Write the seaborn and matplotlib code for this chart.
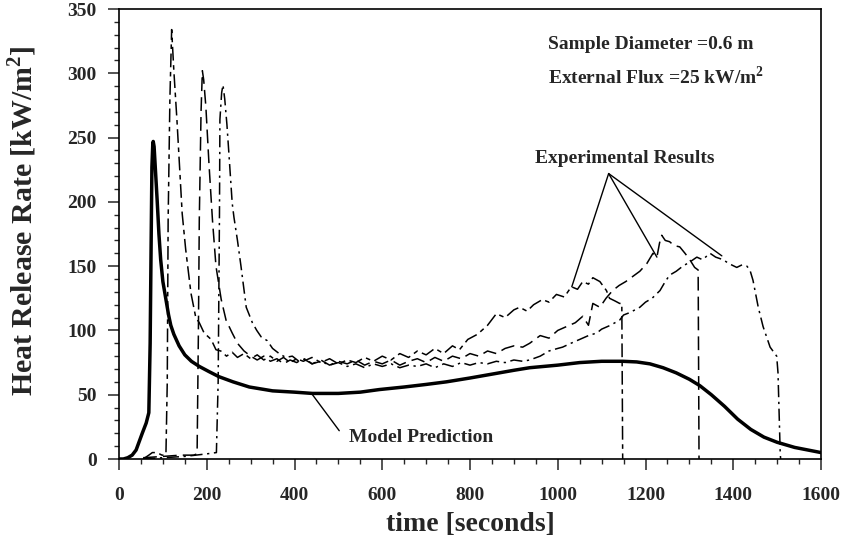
import matplotlib
matplotlib.use("Agg")
import matplotlib.pyplot as plt
import seaborn as sns
import pandas as pd
from matplotlib.ticker import MultipleLocator

# ---------------- data ----------------
model_t = [0, 10, 20, 30, 39, 53, 62, 68, 71, 73, 75, 77, 78, 80, 83, 87, 91, 95, 100, 107,
           113, 118, 125, 137, 150, 165, 183, 205, 228, 260, 297, 350, 400, 441, 500, 550, 593,
           650, 700, 746, 800, 850, 900, 936, 1000, 1050, 1100, 1148, 1180, 1210, 1240, 1270,
           1300, 1324, 1350, 1380, 1410, 1440, 1470, 1500, 1540, 1600]
model_q = [0, 0, 1, 3, 7, 20, 28, 36, 90, 160, 227, 245, 247, 243, 225, 201, 175, 155, 138, 124,
           112, 104, 97, 88, 81, 76, 72, 68, 64, 60, 56, 53, 52, 51, 51, 52, 54,
           56, 58, 60, 63, 66, 69, 71, 73, 75, 76, 76, 75.5, 74, 71, 67,
           62, 57, 50, 41, 31, 23, 17, 13, 9, 5]

expA_t = [55, 68, 76, 84, 92, 98, 104, 107, 110, 112, 116, 120, 125, 132, 144, 152, 164, 175,
          183, 194, 210, 221, 232, 245, 258, 270, 285, 300, 315, 330, 345, 360, 375, 390,
          405, 420, 440, 460, 480, 500, 520, 540, 560, 580, 600, 620, 640, 660, 680, 700,
          720, 740, 760, 776, 795, 817, 840, 860, 880, 900, 913, 930, 945, 965, 980, 997,
          1015, 1031, 1045, 1057, 1070, 1080, 1096, 1111, 1118, 1130, 1141, 1146, 1148]
expA_q = [0, 3, 5, 5, 4, 3, 3, 4, 60, 186, 280, 334, 302, 264, 191, 163, 129, 110,
          106, 98, 93, 85, 84, 80, 83, 79, 82, 78, 81, 77, 80, 76, 79, 75,
          78, 76, 79, 75, 78, 74, 77, 75, 79, 76, 80, 77, 82, 79, 84, 81,
          86, 82, 88, 85, 93, 97, 104, 113, 110, 116, 118, 115, 120, 124, 122, 128,
          126, 134, 132, 138, 136, 141, 138, 131, 125, 123, 121, 121, 0]

expB_t = [55, 100, 140, 170, 178, 181, 183, 187, 190, 193, 198, 205, 213, 221, 233, 244,
          258, 270, 285, 300, 315, 330, 345, 360, 375, 390, 405, 420, 440, 460, 480, 500,
          520, 540, 560, 580, 600, 620, 640, 660, 680, 700, 720, 740, 760, 780, 800, 820,
          840, 860, 880, 900, 920, 936, 960, 980, 1000, 1020, 1040, 1057, 1070, 1080,
          1096, 1110, 1125, 1140, 1155, 1171, 1187, 1203, 1217, 1226, 1232, 1237, 1245,
          1255, 1265, 1278, 1290, 1301, 1312, 1320, 1322]
expB_q = [1, 2, 3, 3, 4, 100, 186, 270, 302, 295, 274, 230, 186, 150, 124, 108,
          98, 90, 84, 80, 77, 80, 76, 78, 74, 77, 75, 78, 74, 77, 73, 76,
          74, 77, 73, 76, 74, 77, 73, 76, 78, 75, 79, 76, 80, 78, 82, 80,
          84, 82, 86, 88, 87, 90, 96, 94, 100, 103, 106, 111, 104, 121,
          118, 125, 131, 135, 138, 142, 146, 152, 160, 157, 168, 174, 170,
          169, 166, 165, 160, 155, 149, 147, 0]

expC_t = [55, 100, 150, 200, 222, 226, 229, 230, 234, 237, 241, 246, 251, 258, 262, 270,
          278, 290, 304, 314, 324, 338, 350, 365, 380, 395, 410, 425, 440, 460, 480, 500,
          520, 540, 560, 580, 600, 620, 640, 660, 680, 700, 720, 740, 760, 780, 800, 820,
          840, 860, 880, 900, 920, 936, 960, 980, 1000, 1011, 1030, 1050, 1070, 1089,
          1100, 1120, 1141, 1150, 1165, 1187, 1200, 1215, 1233, 1245, 1255, 1270, 1285,
          1300, 1317, 1330, 1347, 1360, 1377, 1390, 1408, 1420, 1431, 1438, 1445, 1457,
          1468, 1484, 1499, 1502, 1505, 1507, 1508]
expC_q = [0, 1, 2, 4, 5, 60, 191, 264, 285, 291, 280, 260, 235, 199, 188, 170,
          150, 118, 106, 100, 95, 92, 86, 82, 79, 80, 76, 78, 74, 76, 73, 75,
          72, 74, 71, 74, 72, 74, 71, 73, 72, 74, 71, 74, 72, 75, 73, 75,
          74, 76, 75, 77, 76, 77, 80, 84, 86, 87, 90, 93, 96, 98,
          101, 104, 108, 112, 114, 118, 122, 125, 131, 138, 143, 146, 150,
          153, 157, 155, 160, 157, 155, 152, 149, 151, 150, 147, 139, 118,
          103, 87, 80, 67, 30, 5, 0]

x_ticks = [0, 200, 400, 600, 800, 1000, 1200, 1400, 1600]
y_ticks = [0, 50, 100, 150, 200, 250, 300, 350]

# ---------------- style ----------------
sns.set_style("ticks")
plt.rcParams["font.family"] = ["Liberation Serif", "DejaVu Serif"]
plt.rcParams["font.weight"] = "bold"
plt.rcParams["mathtext.fontset"] = "custom"
plt.rcParams["mathtext.rm"] = "Liberation Serif:bold"
plt.rcParams["mathtext.bf"] = "Liberation Serif:bold"

fig = plt.figure(figsize=(8.47, 5.52), dpi=100)
ax = fig.add_axes([119 / 847, 1 - 459 / 552, (821 - 119) / 847, (459 - 9) / 552])

def draw(t, q, lw, ls):
    df = pd.DataFrame({"t": t, "q": q})
    sns.lineplot(data=df, x="t", y="q", ax=ax, color="black", linewidth=lw,
                 linestyle=ls, sort=False, estimator=None)

draw(model_t, model_q, 2.5, "-")
draw(expA_t, expA_q, 1.1, (0, (9, 3, 3, 3)))
draw(expB_t, expB_q, 1.1, (0, (9, 4)))
draw(expC_t, expC_q, 1.1, (0, (8, 3, 1.5, 3)))

ax.set_xlim(0, 1600)
ax.set_ylim(0, 350)
ax.set_xticks(x_ticks)
ax.set_yticks(y_ticks)
ax.xaxis.set_minor_locator(MultipleLocator(50))
ax.yaxis.set_minor_locator(MultipleLocator(10))
ax.tick_params(which="major", direction="out", length=8, width=1.1, labelsize=14, pad=12)
ax.tick_params(which="minor", direction="out", length=3.6, width=1.0)
ax.tick_params(axis="y", pad=8)
for lab in ax.get_xticklabels() + ax.get_yticklabels():
    lab.set_fontweight("bold")
for sp in ax.spines.values():
    sp.set_visible(True)
    sp.set_linewidth(1.2)
    sp.set_color("black")

ax.set_xlabel("time [seconds]", fontsize=20, fontweight="bold", labelpad=6)
ax.set_ylabel("Heat Release Rate [kW/m$^{\\mathbf{2}}$]", fontsize=21.5, fontweight="bold")
ax.yaxis.set_label_coords(-80 / 702, 0.53)

# annotations
ax.text(977, 322, "Sample Diameter =0.6 m", fontsize=14, fontweight="bold", va="center")
ax.text(977, 297, "External Flux =25 kW/m$^{\\mathbf{2}}$", fontsize=14, fontweight="bold", va="center")
ax.text(1153, 234, "Experimental Results", fontsize=14, fontweight="bold", ha="center", va="center")
ax.text(525, 17, "Model Prediction", fontsize=14, fontweight="bold", va="center")

apex = (1116, 222)
for tgt in [(1032, 134), (1226, 157), (1374, 158)]:
    ax.annotate("", xy=tgt, xytext=apex,
                arrowprops=dict(arrowstyle="-", color="black", lw=1.0, shrinkA=0, shrinkB=0))
ax.annotate("", xy=(441, 50), xytext=(502, 22),
            arrowprops=dict(arrowstyle="-", color="black", lw=1.0, shrinkA=0, shrinkB=0))

fig.savefig("out.png", dpi=100)
